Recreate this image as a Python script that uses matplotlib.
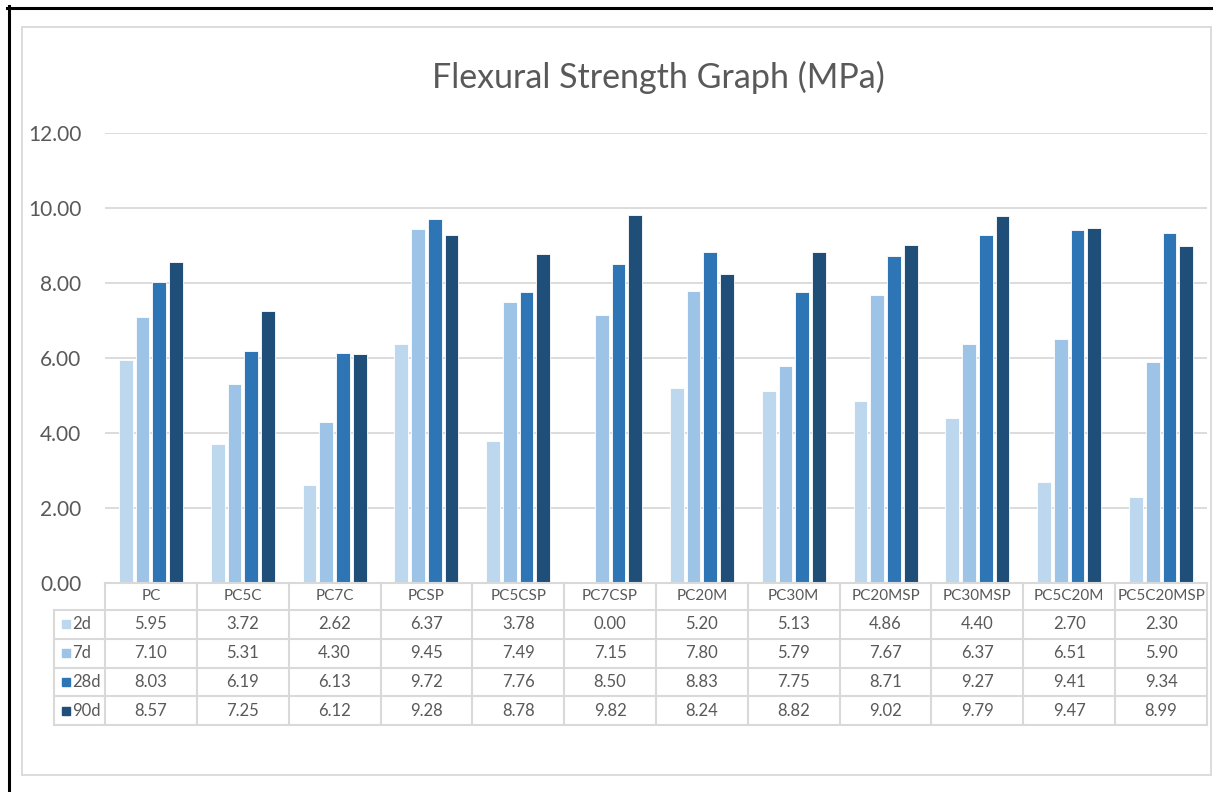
import matplotlib.pyplot as plt
from matplotlib.lines import Line2D
from matplotlib.patches import Rectangle
import numpy as np

categories = ["PC", "PC5C", "PC7C", "PCSP", "PC5CSP", "PC7CSP",
              "PC20M", "PC30M", "PC20MSP", "PC30MSP", "PC5C20M", "PC5C20MSP"]
series_names = ["2d", "7d", "28d", "90d"]
strength_2d = [5.95, 3.72, 2.62, 6.37, 3.78, 0.00, 5.20, 5.13, 4.86, 4.40, 2.70, 2.30]
strength_7d = [7.10, 5.31, 4.30, 9.45, 7.49, 7.15, 7.80, 5.79, 7.67, 6.37, 6.51, 5.90]
strength_28d = [8.03, 6.19, 6.13, 9.72, 7.76, 8.50, 8.83, 7.75, 8.71, 9.27, 9.41, 9.34]
strength_90d = [8.57, 7.25, 6.12, 9.28, 8.78, 9.82, 8.24, 8.82, 9.02, 9.79, 9.47, 8.99]
y_ticks = [0, 2, 4, 6, 8, 10, 12]

series = [strength_2d, strength_7d, strength_28d, strength_90d]
colors = ["#BDD7EE", "#9DC3E6", "#2E75B6", "#1F4E79"]
TEXT = "#595959"
LINE = "#D9D9D9"

plt.rcParams["font.family"] = ["Lato", "DejaVu Sans"]

W, H = 1213, 792
fig = plt.figure(figsize=(W / 100, H / 100), dpi=100)


def fx(px):
    return px / W


def fy(py):
    return 1 - py / H


# page border and chart frame
fig.add_artist(Line2D([fx(8.5), fx(8.5)], [fy(6), fy(792)], color="black", lw=2.2,
                      transform=fig.transFigure))
fig.add_artist(Line2D([fx(7), fx(1213)], [fy(7.5), fy(7.5)], color="black", lw=2.2,
                      transform=fig.transFigure))
fig.add_artist(Rectangle((fx(22), fy(775)), (1211 - 22) / W, (775 - 27) / H, fill=False,
                         edgecolor=LINE, lw=1.3, transform=fig.transFigure))

fig.text(fx(658), fy(77), "Flexural Strength Graph (MPa)", ha="center", va="center",
         fontsize=24.5, color=TEXT)

# bar chart
left, right, top, base, tbottom = 105, 1207, 133, 583, 725
ax = fig.add_axes([fx(left), fy(base), (right - left) / W, (base - top) / H])
x = np.arange(len(categories))
pitch = 0.182
for i, (vals, c) in enumerate(zip(series, colors)):
    ax.bar(x + (i - 1.5) * pitch, vals, width=0.15, color=c, edgecolor="white",
           lw=0.6, zorder=3, label=series_names[i])
ax.set_xlim(-0.5, len(categories) - 0.5)
ax.set_ylim(0, 12)
ax.set_yticks(y_ticks)
ax.set_yticklabels([f"{v:.2f}" for v in y_ticks])
ax.tick_params(axis="y", length=0, pad=17, labelsize=15, labelcolor=TEXT)
ax.set_xticks([])
ax.grid(axis="y", color=LINE, lw=1.3, zorder=0)
for s in ax.spines.values():
    s.set_visible(False)

# data table under the bars
tax = fig.add_axes([fx(left), fy(tbottom), (right - left) / W, (tbottom - base) / H])
tax.set_xlim(-0.5, len(categories) - 0.5)
tax.set_ylim(0, tbottom - base)
tax.axis("off")
unit = (right - left) / len(categories)
leg_left = -0.5 - 51 / unit
rows = [142, 115, 86.25, 57.5, 28.75, 0]

tax.plot([-0.5, len(categories) - 0.5], [rows[0], rows[0]], color=LINE, lw=1.5,
         clip_on=False)
for yy in rows[1:]:
    tax.plot([leg_left, len(categories) - 0.5], [yy, yy], color=LINE, lw=1.5, clip_on=False)
for k in range(len(categories) + 1):
    tax.plot([k - 0.5, k - 0.5], [0, rows[0]], color=LINE, lw=1.5, clip_on=False)
tax.plot([leg_left, leg_left], [0, rows[1]], color=LINE, lw=1.5, clip_on=False)

for j, name in enumerate(categories):
    tax.text(j, (rows[0] + rows[1]) / 2, name, ha="center", va="center", fontsize=11,
             color=TEXT)

for i, (vals, c, name) in enumerate(zip(series, colors, series_names)):
    yc = (rows[i + 1] + rows[i + 2]) / 2
    key_x = -0.5 - (left - 62) / unit
    tax.add_patch(Rectangle((key_x, yc - 4), 8 / unit, 8, color=c, clip_on=False))
    tax.text(-0.5 - (left - 72) / unit, yc, name, ha="left", va="center", fontsize=12,
             color=TEXT, clip_on=False)
    for j, v in enumerate(vals):
        tax.text(j, yc, f"{v:.2f}", ha="center", va="center", fontsize=12, color=TEXT)

fig.savefig("out.png", dpi=100)
